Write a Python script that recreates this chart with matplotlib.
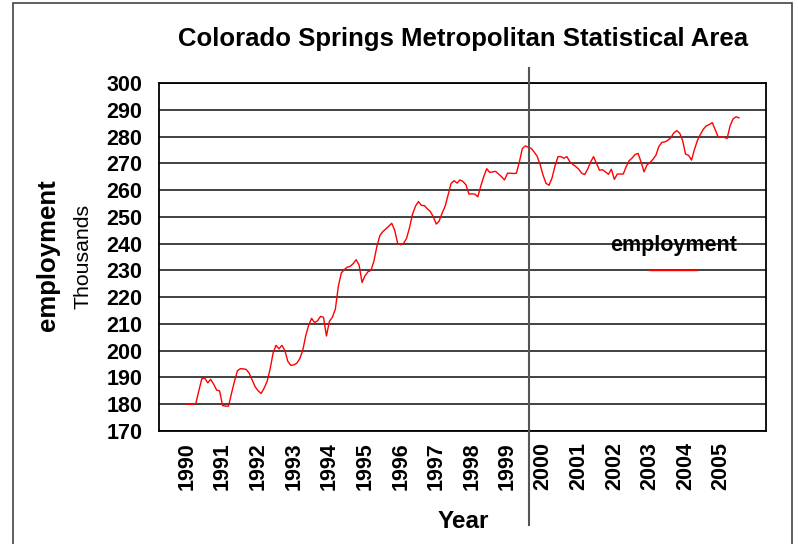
import numpy as np
import matplotlib
matplotlib.use("Agg")
import matplotlib.pyplot as plt
from matplotlib.lines import Line2D
from matplotlib.patches import Rectangle

plt.rcParams['font.family'] = ['Liberation Sans', 'DejaVu Sans']

# monthly employment (thousands), Jan 1990 onwards
emp_1990 = [180, 180, 180, 180.3, 185, 189.5, 189.8, 188, 189.3, 187.5, 185.3, 185]
emp_1991 = [179.5, 179.3, 179.3, 184, 188.5, 192.5, 193.3, 193.2, 193, 191.5, 189, 186.5]
emp_1992 = [185, 184, 186, 188.5, 193, 199, 202, 200.7, 202, 200, 196, 194.5]
emp_1993 = [194.7, 195.3, 197, 200, 205.5, 209.5, 212.1, 210.5, 211.2, 212.8, 212.5, 205.5]
emp_1994 = [211, 212.5, 215.5, 224, 229, 230.3, 231.2, 231.5, 232.5, 234, 232, 225.5]
emp_1995 = [228, 229.5, 230, 233.5, 239, 243, 244.5, 245.5, 246.5, 247.6, 245, 240]
emp_1996 = [239.6, 240.1, 242, 246, 251, 254, 255.7, 254.3, 254.2, 253, 252, 250]
emp_1997 = [247.3, 248.5, 251.5, 254, 258.2, 262.5, 263.5, 262.6, 263.8, 263.2, 262, 258.5]
emp_1998 = [258.6, 258.5, 257.5, 261.5, 265, 268, 266.6, 266.8, 267, 266, 265, 263.8]
emp_1999 = [266.3, 266.3, 266.2, 266.3, 270.5, 275.5, 276.5, 276, 275.6, 274.2, 272.6, 269.5]
emp_2000 = [265.5, 262.5, 261.8, 264.5, 269, 272.5, 272.5, 271.9, 272.5, 270.6, 269.6, 268.8]
emp_2001 = [267.8, 266.3, 265.8, 267.8, 270.5, 272.5, 270, 267.4, 267.6, 266.8, 265.9, 267.8]
emp_2002 = [264, 266, 266, 266, 268.8, 271, 272, 273.3, 273.7, 270.5, 266.8, 269.4]
emp_2003 = [270.3, 271.5, 273, 276.3, 277.8, 278, 278.6, 279.5, 281.3, 282.2, 281.3, 278.5]
emp_2004 = [273.4, 273, 271.2, 275.2, 278.6, 280.8, 282.8, 284, 284.5, 285.2, 282.5, 279.8]
emp_2005 = [279.9, 279.7, 279.3, 284, 286.6, 287.4, 287]

employment = (emp_1990 + emp_1991 + emp_1992 + emp_1993 + emp_1994 + emp_1995 +
              emp_1996 + emp_1997 + emp_1998 + emp_1999 + emp_2000 + emp_2001 +
              emp_2002 + emp_2003 + emp_2004 + emp_2005)
years = list(range(1990, 2006))
y_ticks = list(range(170, 301, 10))

# x position of each month in fractional years
t = 1990 + np.arange(len(employment)) / 12.0

fig = plt.figure(figsize=(7.98, 5.44), dpi=100)
ax = fig.add_axes([0.199, 0.2077, 0.761, 0.6397])

for v in y_ticks:
    ax.axhline(v, color='#333333', lw=1.3, zorder=1)

ax.plot(t, employment, color='red', lw=1.0, zorder=3)

ax.set_xlim(1989.21, 2006.26)
ax.set_ylim(170, 300)
ax.set_yticks(y_ticks)
ax.set_yticklabels([str(v) for v in y_ticks], fontsize=15.5, fontweight='bold')
ax.set_xticks(years)
ax.set_xticklabels([str(y) for y in years], rotation=90, fontsize=15.5, fontweight='bold')
ax.tick_params(axis='x', length=0, pad=8)
ax.tick_params(axis='y', length=0, pad=12)
for s in ax.spines.values():
    s.set_color('black')
    s.set_linewidth(1.3)

fig.text(0.58, 1 - 39 / 544, 'Colorado Springs Metropolitan Statistical Area',
         fontsize=18.5, fontweight='bold', ha='center', va='center')

# y label: bold name plus units
fig.text(0.06, 1 - 255 / 544, 'employment', rotation=90, fontsize=18.5,
         fontweight='bold', ha='center', va='center')
fig.text(0.104, 1 - 256 / 544, 'Thousands', rotation=90, fontsize=15.3,
         ha='center', va='center')
fig.text(0.581, 1 - 522 / 544, 'Year', fontsize=17.5, fontweight='bold',
         ha='center', va='center')

# legend: label above a short red line
ax.text(0.847, 0.534, 'employment', transform=ax.transAxes, fontsize=15.5,
        fontweight='bold', ha='center', va='center')
ax.add_line(Line2D([0.808, 0.887], [0.463, 0.463], transform=ax.transAxes,
                   color='red', lw=1.0))

# vertical marker line across the figure
fig.add_artist(Line2D([0.663, 0.663], [0.035, 0.875], color='#555555', lw=1.5))

# figure border
fig.add_artist(Rectangle((13 / 798, -0.01), (792 - 13) / 798, 1 - 3 / 544 + 0.01,
                         fill=False, edgecolor='#444444', lw=1.2,
                         transform=fig.transFigure))

fig.savefig('out.png', dpi=100)
